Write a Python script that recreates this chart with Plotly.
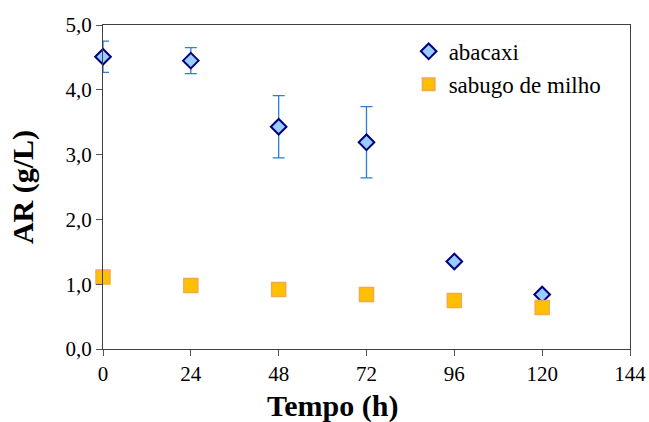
import plotly.graph_objects as go

tempo = [0, 24, 48, 72, 96, 120]
abacaxi = [4.51, 4.45, 3.43, 3.19, 1.35, 0.84]
abacaxi_err = [0.24, 0.20, 0.48, 0.55, 0.0, 0.0]
sabugo = [1.11, 0.98, 0.92, 0.84, 0.75, 0.64]
y_ticks = [0, 1, 2, 3, 4, 5]
y_labels = ["0,0", "1,0", "2,0", "3,0", "4,0", "5,0"]
x_ticks = [0, 24, 48, 72, 96, 120, 144]

font = "Times New Roman, Liberation Serif, Tinos, serif"

fig = go.Figure()
fig.add_trace(go.Scatter(
    x=tempo, y=abacaxi, mode="markers", name="abacaxi", legendgroup="a",
    marker=dict(symbol="diamond", size=12, color="#99ccff",
                line=dict(color="#000080", width=2)),
    error_y=dict(type="data", array=abacaxi_err, visible=True,
                 color="#2a7fd4", thickness=1.3, width=6),
))
fig.add_trace(go.Scatter(
    x=tempo, y=sabugo, mode="markers", name="sabugo de milho", legendgroup="b",
    marker=dict(symbol="square", size=14, color="#ffc000",
                line=dict(color="#f7a94a", width=1.5)),
))

fig.update_layout(
    width=649, height=422,
    margin=dict(l=103, r=19, t=25, b=73, autoexpand=False),
    paper_bgcolor="white", plot_bgcolor="white",
    font=dict(family=font, size=22, color="black"),
    showlegend=True,
    legend=dict(x=0.58, y=0.985, xanchor="left", yanchor="top",
                font=dict(family=font, size=23, color="black"),
                bgcolor="rgba(0,0,0,0)", itemsizing="constant",
                tracegroupgap=0, itemwidth=30),
    xaxis=dict(range=[0, 144], tickvals=x_ticks, ticks="outside",
               ticklen=6, tickcolor="#555", showgrid=False, zeroline=False,
               showline=True, linecolor="#404040", linewidth=1.3, mirror=True,
               automargin=False,
               tickfont=dict(family=font, size=21)),
    yaxis=dict(range=[0, 5], tickvals=y_ticks, ticktext=y_labels, ticks="outside",
               ticklen=6, tickcolor="#555", showgrid=False, zeroline=False,
               showline=True, linecolor="#404040", linewidth=1.3, mirror=True,
               automargin=False,
               title=dict(text="<b>AR (g/L)</b>", font=dict(family=font, size=30), standoff=22),
               tickfont=dict(family=font, size=21)),
    annotations=[dict(text="<b>Tempo (h)</b>", xref="paper", yref="paper",
                      x=0.436, y=-0.175, xanchor="center", yanchor="middle",
                      showarrow=False, font=dict(family=font, size=30))],
)
fig.update_traces(cliponaxis=False)
fig.write_html("out.html")
